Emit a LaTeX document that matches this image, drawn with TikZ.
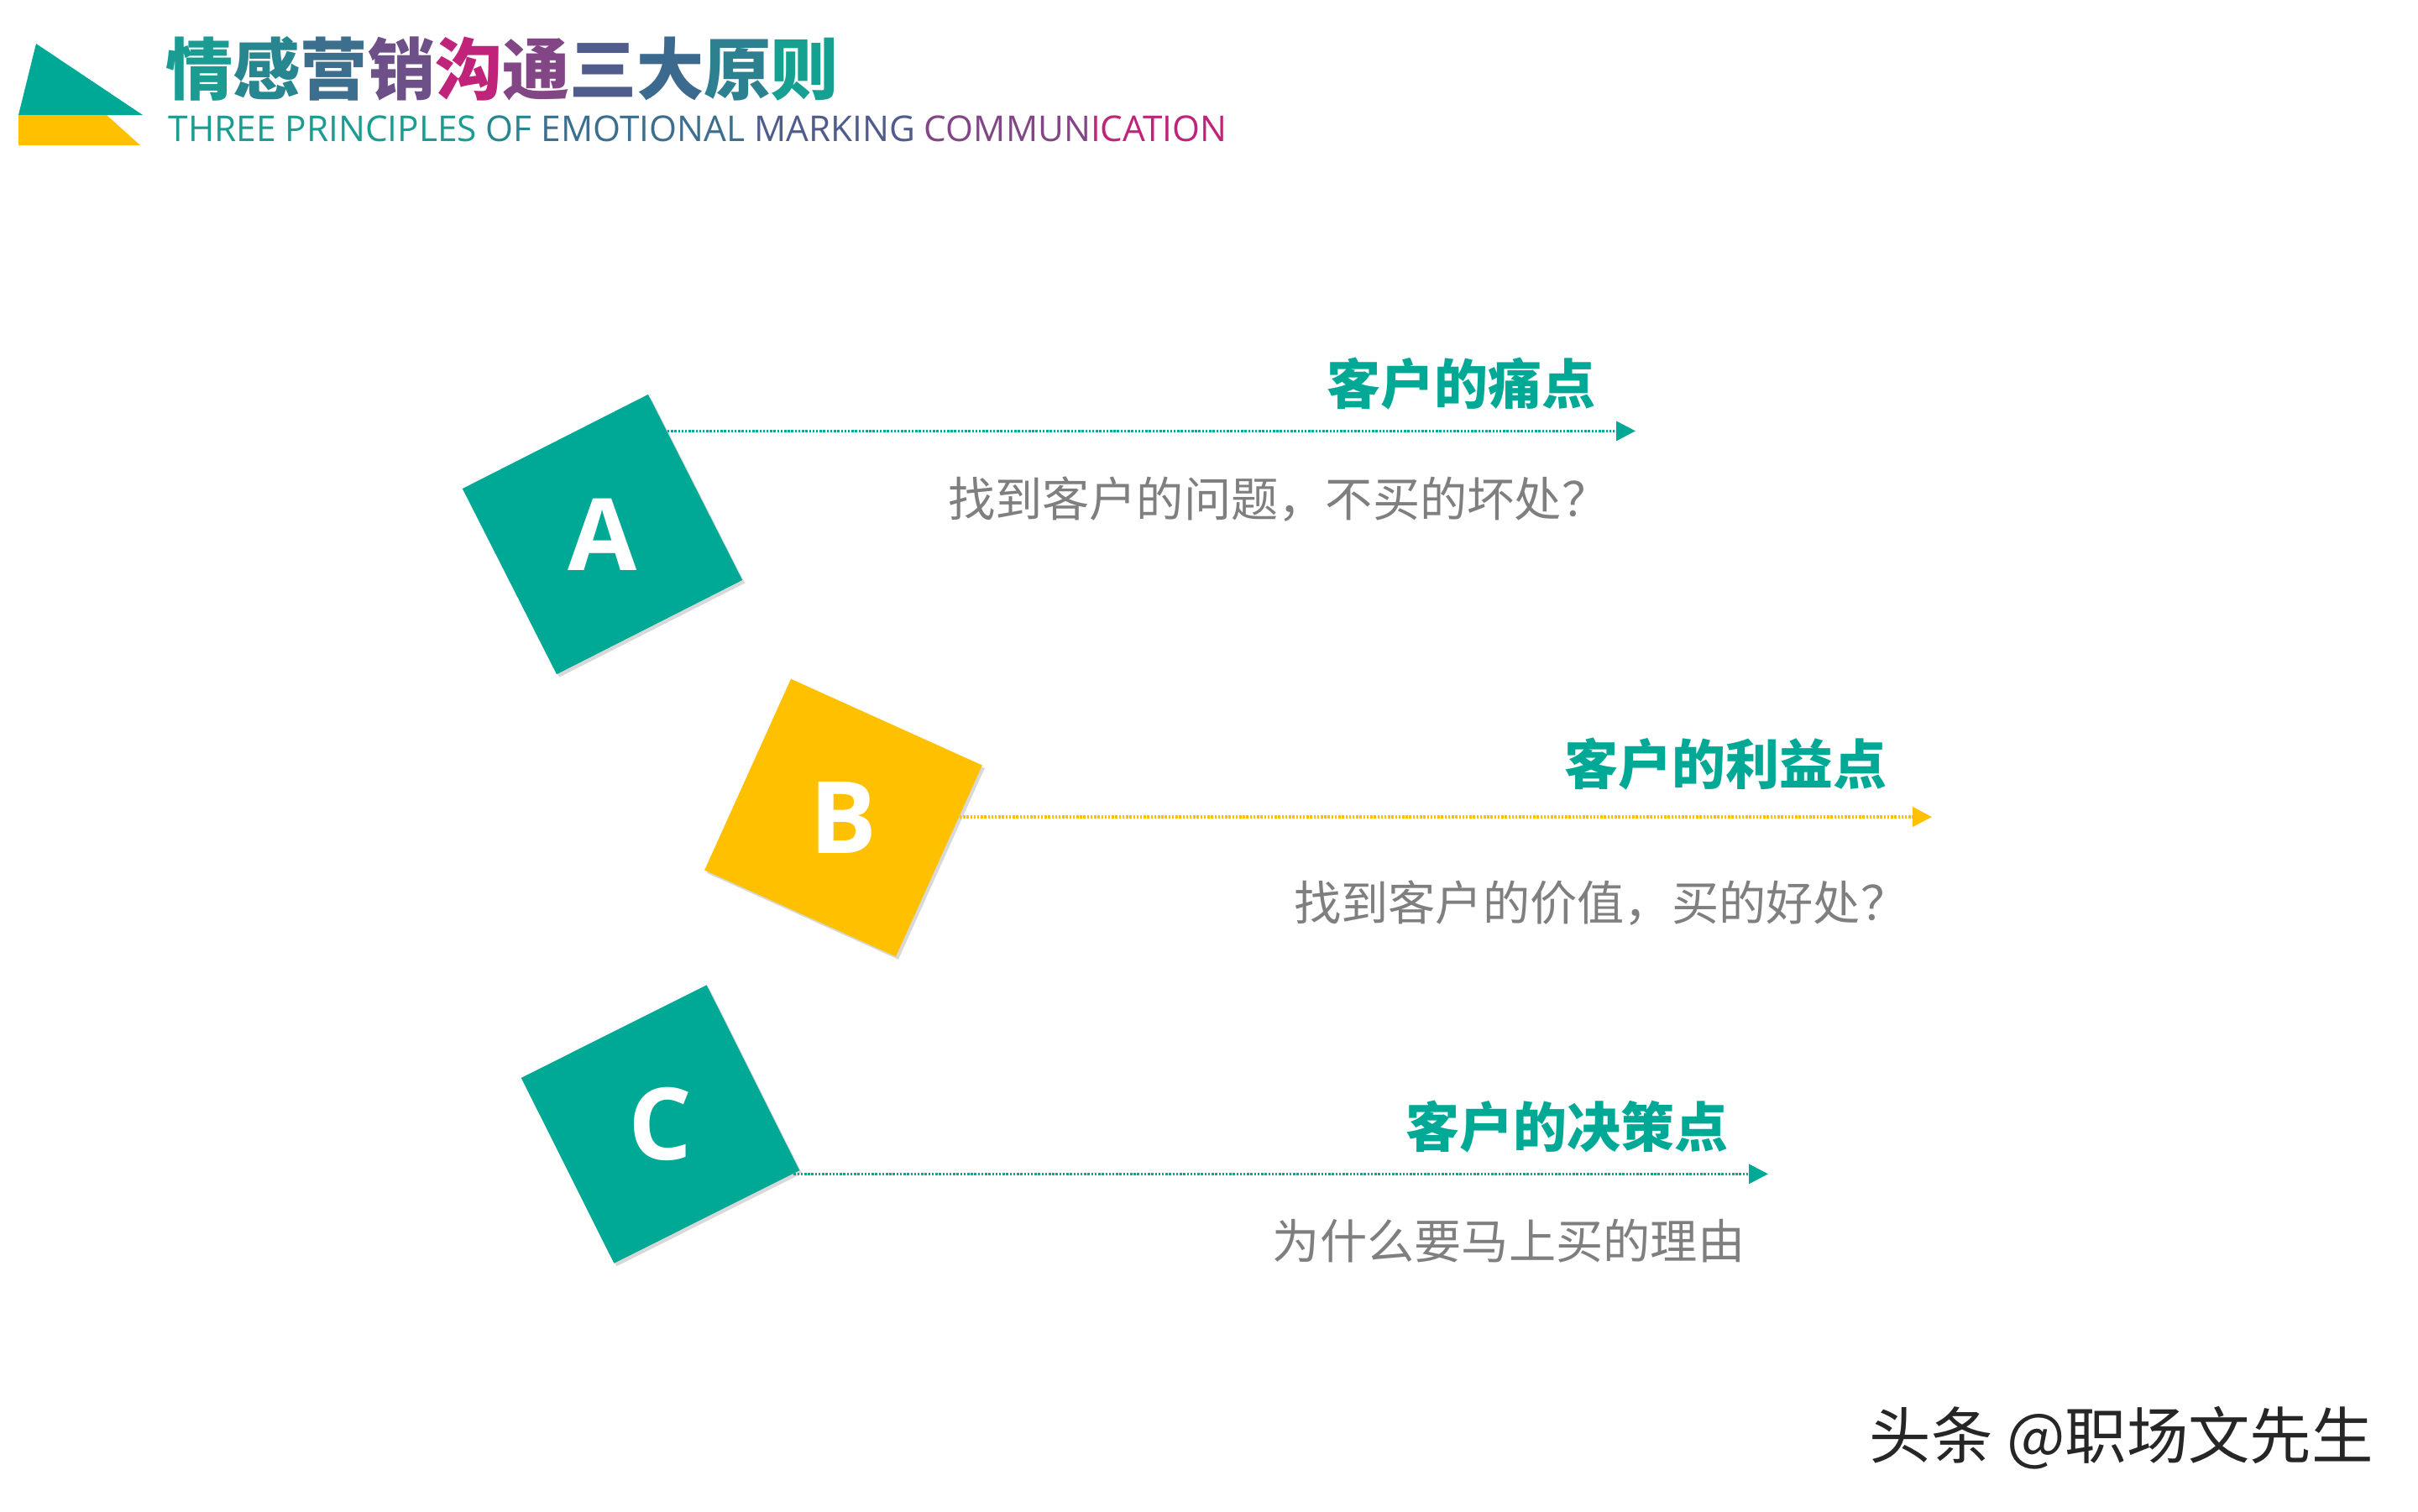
\documentclass[tikz,border=0pt]{standalone}
\usepackage{fontspec}
\usepackage{tikz}
\usetikzlibrary{arrows.meta,calc,shadows,positioning}
\newfontfamily\cjk{Noto Sans CJK SC}
\newfontfamily\opensans{Open Sans}
\definecolor{tealc}{RGB}{0,169,149}
\definecolor{yellowc}{RGB}{255,192,0}
\definecolor{greyc}{RGB}{127,127,127}
% title gradient, one colour per character
\definecolor{t1}{RGB}{26,156,146}
\definecolor{t2}{RGB}{40,134,144}
\definecolor{t3}{RGB}{60,110,142}
\definecolor{t4}{RGB}{110,80,136}
\definecolor{t5}{RGB}{192,36,122}
\definecolor{t6}{RGB}{130,70,134}
\definecolor{t7}{RGB}{80,92,140}
\definecolor{t8}{RGB}{60,106,142}
\definecolor{t9}{RGB}{44,128,144}
\definecolor{t10}{RGB}{22,160,146}
\newcommand{\tc}[2]{\textcolor{#1}{#2}}

\begin{document}
\begin{tikzpicture}[
  sqbox/.style={minimum size=2.48cm,inner sep=0pt,
    drop shadow={shadow xshift=0.03cm,shadow yshift=-0.035cm,opacity=0.3}},
  letter/.style={inner sep=0pt,text=white,font=\opensans\bfseries\fontsize{33.9}{34}\selectfont},
  head/.style={anchor=base east,inner sep=0pt,text=tealc,font=\cjk\bfseries\fontsize{18.2}{20}\selectfont},
  desc/.style={anchor=base east,inner sep=0pt,text=greyc,font=\cjk\fontsize{16}{18}\selectfont},
  dotline/.style={line width=1pt,dash pattern=on 0.7pt off 0.5pt,-{Triangle[length=2.3mm,width=2.3mm]}}]

 \fill[white] (0,0) rectangle (28.8,-18);
 \useasboundingbox (0,0) rectangle (28.8,-18);

 % logo and heading
 \fill[tealc] (0.43,-0.52) -- (0.22,-1.37) -- (1.70,-1.37) -- cycle;
 \fill[yellowc] (0.22,-1.37) -- (1.27,-1.37) -- (1.67,-1.73) -- (0.22,-1.73) -- cycle;
 \node[anchor=base west,inner sep=0pt,font=\cjk\bfseries\fontsize{22.8}{24}\selectfont] (title) at (1.97,-1.12)
   {\tc{t1}{情}\tc{t2}{感}\tc{t3}{营}\tc{t4}{销}\tc{t5}{沟}\tc{t6}{通}\tc{t7}{三}\tc{t8}{大}\tc{t9}{原}\tc{t10}{则}};
 \node[anchor=base west,inner sep=0pt,font=\opensans\fontsize{12.05}{13}\selectfont] (subtitle) at (2.0,-1.68)
   {\tc{t1}{THREE} \tc{t1}{PRINCIPLES} \tc{t2}{OF} \tc{t3}{EMOTIONAL} \tc{t7}{MARKING} \tc{t6}{COMMUN}\tc{t5}{ICATION}};

 % the three squares
 \node[sqbox,fill=tealc,rotate=26.9] (A) at (7.175,-6.365) {};
 \node[letter] (a) at (A.center) {A};
 \node[sqbox,fill=yellowc,rotate=-24.3,minimum size=2.5cm] (B) at (10.045,-9.74) {};
 \node[letter] (b) at (B.center) {B};
 \node[sqbox,fill=tealc,rotate=26.6,minimum size=2.47cm] (C) at (7.865,-13.39) {};
 \node[letter] (c) at (C.center) {C};

 \coordinate (sA) at ($(A.north east)!0.2!(A.south east)$);
 \coordinate (sB) at ($(B.north east)!0.27!(B.south east)$);
 \coordinate (sC) at ($(C.south east)!0.035!(C.south west)$);
 \coordinate (endA) at (19.48,-5.14);
 \coordinate (endB) at (23.01,-9.73);
 \coordinate (endC) at (21.06,-13.98);

 \draw[dotline,tealc] (sA) -- (sA -| endA);
 \draw[dotline,yellowc] (sB) -- (sB -| endB);
 \draw[dotline,tealc] (sC) -- (sC -| endC);

 \node[head] (hA) at (19.01,-4.81) {客户的痛点};
 \node[desc] (dA) at (19.17,-6.15) {找到客户的问题，不买的坏处？};
 \node[head] (hB) at (22.48,-9.34) {客户的利益点};
 \node[desc] (dB) at (22.73,-10.96) {找到客户的价值，买的好处？};
 \node[head] (hC) at (20.59,-13.66) {客户的决策点};
 \node[desc] (dC) at (20.79,-14.99) {为什么要马上买的理由};

 \node[anchor=base west,inner sep=0pt,text=black!85,font=\cjk\fontsize{20.9}{22}\selectfont] (mark) at (22.26,-17.37) {头条 @职场文先生};
\end{tikzpicture}
\end{document}
